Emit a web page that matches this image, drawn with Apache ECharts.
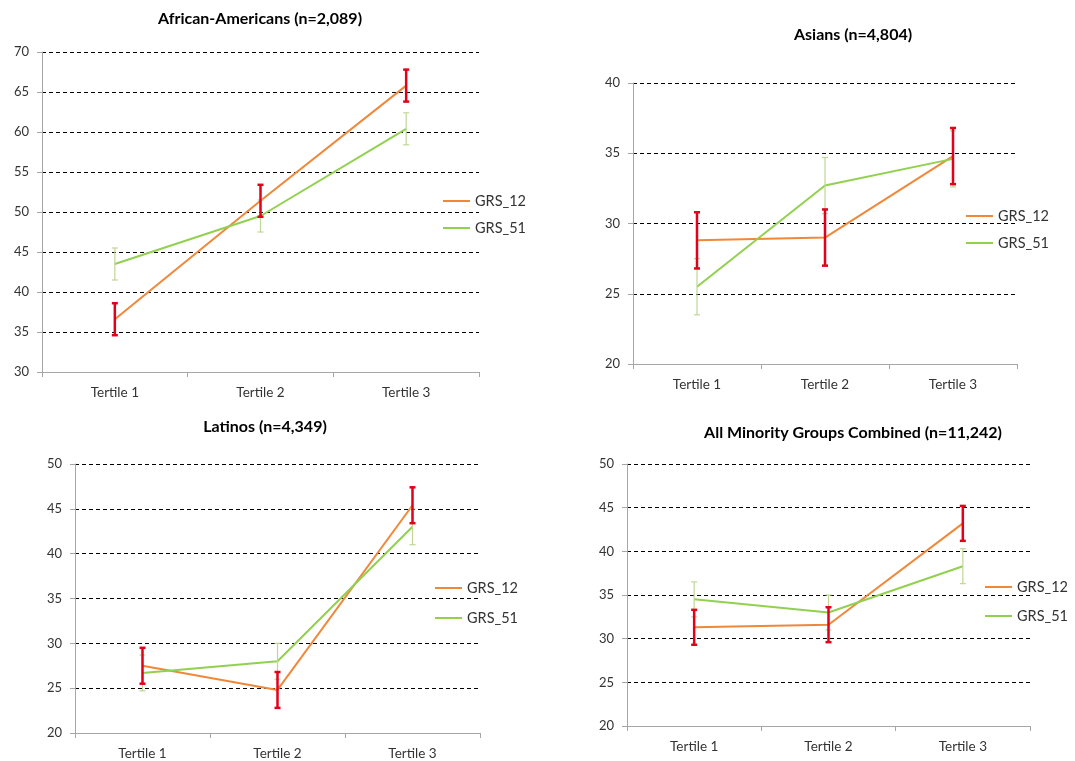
<!DOCTYPE html>
<html>
<head>
<meta charset="utf-8">
<script src="https://cdn.jsdelivr.net/npm/echarts@6/dist/echarts.min.js"></script>
<style>html,body{margin:0;padding:0;background:#fff;}#c{width:1075px;height:761px;}</style>
</head>
<body>
<div id="c"></div>
<script>
const categories = ['Tertile 1', 'Tertile 2', 'Tertile 3'];
const seriesNames = ['GRS_12', 'GRS_51'];

const titles = ['African-Americans (n=2,089)', 'Asians (n=4,804)', 'Latinos (n=4,349)', 'All Minority Groups Combined (n=11,242)'];

const aaGrs12 = [36.6, 51.4, 65.8];
const aaGrs51 = [43.5, 49.5, 60.4];
const aaErr12 = [2, 2, 2];
const aaErr51 = [2, 2, 2];

const asGrs12 = [28.8, 29.0, 34.8];
const asGrs51 = [25.5, 32.7, 34.6];
const asErr12 = [2, 2, 2];
const asErr51 = [2, 2, 2];

const laGrs12 = [27.5, 24.8, 45.4];
const laGrs51 = [26.7, 28.0, 43.0];
const laErr12 = [2, 2, 2];
const laErr51 = [2, 2, 2];

const allGrs12 = [31.3, 31.6, 43.2];
const allGrs51 = [34.5, 33.0, 38.3];
const allErr12 = [2, 2, 2];
const allErr51 = [2, 2, 2];

const yMins = [30, 20, 20, 20];
const yMaxs = [70, 40, 50, 50];
const yInterval = 5;

const panels = [
  {g12: aaGrs12, g51: aaGrs51, e12: aaErr12, e51: aaErr51},
  {g12: asGrs12, g51: asGrs51, e12: asErr12, e51: asErr51},
  {g12: laGrs12, g51: laGrs51, e12: laErr12, e51: laErr51},
  {g12: allGrs12, g51: allGrs51, e12: allErr12, e51: allErr51}
];

// layout
const grids = [
  {left: 42, top: 52, width: 437, height: 320},
  {left: 633, top: 83, width: 384, height: 281},
  {left: 75, top: 464, width: 405, height: 269},
  {left: 627, top: 464, width: 403, height: 262}
];
const titlePos = [[260, 11], [853, 27], [265, 419], [853, 425]];
const legendPos = [[443, 193, 11], [966, 208, 11], [435, 580, 14], [985, 579, 13]];

const C12 = '#f0883a';
const C51 = '#92d050';
const E12 = '#e3001b';
const E51 = '#bfd795';
const FONT = 'Lato, "Liberation Sans", sans-serif';

function errRender(color, width, capHalf) {
  return function (params, api) {
    const x = api.value(0);
    const lo = api.coord([x, api.value(1)]);
    const hi = api.coord([x, api.value(2)]);
    const st = {stroke: color, lineWidth: width};
    return {
      type: 'group',
      children: [
        {type: 'line', shape: {x1: hi[0], y1: hi[1], x2: lo[0], y2: lo[1]}, style: st},
        {type: 'line', shape: {x1: hi[0] - capHalf, y1: hi[1], x2: hi[0] + capHalf, y2: hi[1]}, style: st},
        {type: 'line', shape: {x1: lo[0] - capHalf, y1: lo[1], x2: lo[0] + capHalf, y2: lo[1]}, style: st}
      ]
    };
  };
}

const option = {
  animation: false,
  backgroundColor: '#fff',
  textStyle: {fontFamily: FONT},
  title: [], grid: [], xAxis: [], yAxis: [], legend: [], series: []
};

panels.forEach((p, i) => {
  option.title.push({
    text: titles[i], left: titlePos[i][0], top: titlePos[i][1], textAlign: 'center', padding: 0,
    textStyle: {fontFamily: FONT, fontWeight: 'bold', fontSize: 16, color: '#000'}
  });
  option.grid.push(Object.assign({containLabel: false}, grids[i]));
  option.xAxis.push({
    type: 'category', gridIndex: i, data: categories, boundaryGap: true, z: 5,
    axisLine: {lineStyle: {color: '#a6a6a6', width: 1}},
    axisTick: {show: true, length: 5, lineStyle: {color: '#a6a6a6'}},
    axisLabel: {fontFamily: FONT, fontSize: 13.5, color: '#333', margin: 14},
    splitLine: {show: false}
  });
  option.yAxis.push({
    type: 'value', gridIndex: i, min: yMins[i], max: yMaxs[i], interval: yInterval,
    axisLine: {show: true, lineStyle: {color: '#a6a6a6', width: 1}},
    axisTick: {show: true, length: 5, lineStyle: {color: '#a6a6a6'}},
    axisLabel: {fontFamily: FONT, fontSize: 13, color: '#333', margin: 13},
    splitLine: {show: true, lineStyle: {color: '#000', type: [4, 3], width: 1}}
  });
  option.legend.push({
    orient: 'vertical', left: legendPos[i][0], top: legendPos[i][1], padding: 0,
    icon: 'rect', itemWidth: 27, itemHeight: 2, itemGap: legendPos[i][2],
    data: [{name: 'GRS_12', itemStyle: {color: C12}}, {name: 'GRS_51', itemStyle: {color: C51}}],
    textStyle: {fontFamily: FONT, fontSize: 14.5, lineHeight: 16, color: '#333'},
    selectedMode: false
  });
  option.series.push({
    name: 'GRS_12', type: 'line', xAxisIndex: i, yAxisIndex: i, data: p.g12,
    symbol: 'none', lineStyle: {color: C12, width: 2}, itemStyle: {color: C12}, z: 2
  });
  option.series.push({
    name: 'GRS_51', type: 'line', xAxisIndex: i, yAxisIndex: i, data: p.g51,
    symbol: 'none', lineStyle: {color: C51, width: 2}, itemStyle: {color: C51}, z: 2
  });
  option.series.push({
    name: 'GRS_51', type: 'custom', xAxisIndex: i, yAxisIndex: i, z: 3,
    renderItem: errRender(E51, 1.2, 3),
    data: p.g51.map((v, k) => [k, v - p.e51[k], v + p.e51[k]])
  });
  option.series.push({
    name: 'GRS_12', type: 'custom', xAxisIndex: i, yAxisIndex: i, z: 4,
    renderItem: errRender(E12, 2.5, 3),
    data: p.g12.map((v, k) => [k, v - p.e12[k], v + p.e12[k]])
  });
});

const chart = echarts.init(document.getElementById('c'), null, {renderer: 'canvas'});
chart.setOption(option);
</script>
</body>
</html>
